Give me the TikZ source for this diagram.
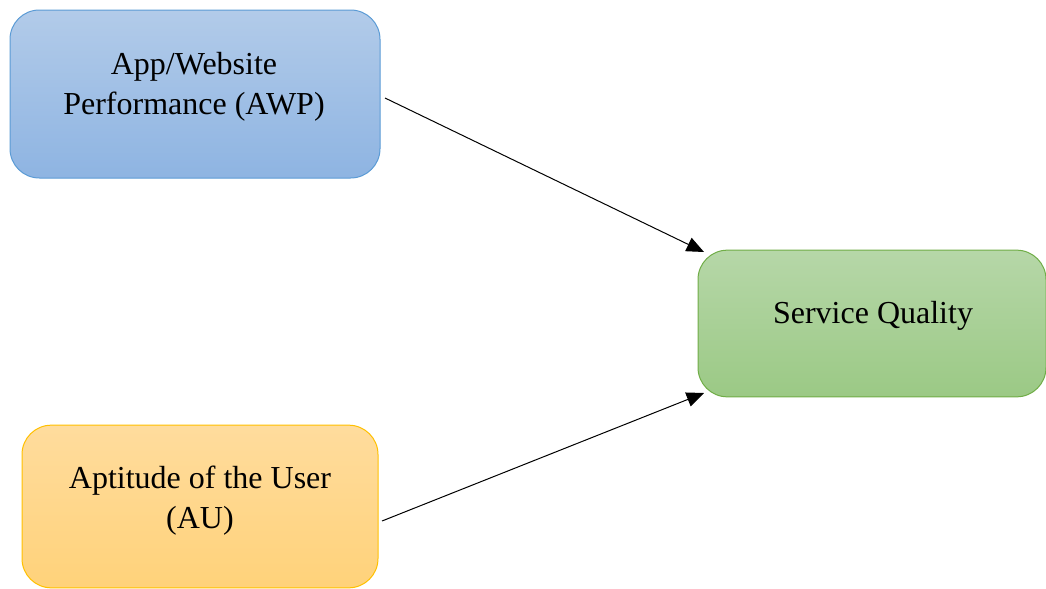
\documentclass[tikz,border=0pt]{standalone}
\usepackage{fontspec}
\setmainfont{Liberation Serif}
\usetikzlibrary{arrows.meta}
\definecolor{bluetop}{HTML}{B2CBE9}
\definecolor{bluebot}{HTML}{8EB4E2}
\definecolor{blueline}{HTML}{5B9BD5}
\definecolor{greentop}{HTML}{B6D7A8}
\definecolor{greenbot}{HTML}{9BC985}
\definecolor{greenline}{HTML}{70AD47}
\definecolor{orangetop}{HTML}{FFDC9D}
\definecolor{orangebot}{HTML}{FFD27A}
\definecolor{orangeline}{HTML}{FFC000}
\tikzset{
  box/.style={draw, rectangle, rounded corners=22pt, line width=0.75pt, inner sep=0pt},
  txt/.style={align=center, font=\fontsize{24pt}{30pt}\selectfont, inner sep=0pt},
  conn/.style={line width=0.75pt, -{Triangle[length=13pt,width=11pt]}}
}
\begin{document}
\begin{tikzpicture}[x=0.75pt,y=-0.75pt]
\useasboundingbox (0,0) rectangle (1046,589);
\node[box, top color=bluetop, bottom color=bluebot, draw=blueline,
      minimum width=277.5pt, minimum height=126pt] (awp) at (195,94) {};
\node[txt] (awptext) at (194,87) {App/Website\\Performance (AWP)};
\node[box, top color=greentop, bottom color=greenbot, draw=greenline,
      minimum width=261pt, minimum height=110pt] (sq) at (872,323.5) {};
\node[txt] (sqtext) at (873,316) {Service Quality};
\node[box, top color=orangetop, bottom color=orangebot, draw=orangeline,
      minimum width=267pt, minimum height=122pt] (au) at (200,506.5) {};
\node[txt] (autext) at (200,501) {Aptitude of the User\\(AU)};
\coordinate (s1) at (385,98);
\coordinate (e1) at (704,252);
\coordinate (s2) at (382,521);
\coordinate (e2) at (704,393);
\draw[conn] (s1) -- (e1);
\draw[conn] (s2) -- (e2);
\end{tikzpicture}
\end{document}
